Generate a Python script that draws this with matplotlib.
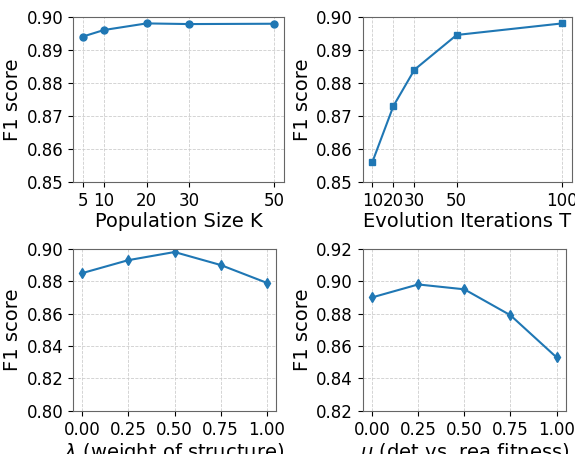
import matplotlib
matplotlib.use("Agg")
import matplotlib.pyplot as plt

# Data
pop_k = [5, 10, 20, 30, 50]
pop_f1 = [0.894, 0.896, 0.898, 0.8978, 0.8979]

iter_t = [10, 20, 30, 50, 100]
iter_f1 = [0.856, 0.873, 0.884, 0.8945, 0.898]

lam = [0.0, 0.25, 0.5, 0.75, 1.0]
lam_f1 = [0.885, 0.893, 0.898, 0.890, 0.879]

mu = [0.0, 0.25, 0.5, 0.75, 1.0]
mu_f1 = [0.890, 0.898, 0.895, 0.879, 0.853]

color = '#1f77b4'
fig = plt.figure(figsize=(5.75, 4.54), dpi=100)

positions = [
    [0.127, 0.599, 0.367, 0.364],
    [0.631, 0.599, 0.363, 0.364],
    [0.127, 0.095, 0.353, 0.357],
    [0.631, 0.095, 0.353, 0.357],
]
panels = [
    (pop_k, pop_f1, 'o', 'Population Size K', [0.85, 0.86, 0.87, 0.88, 0.89, 0.90], pop_k),
    (iter_t, iter_f1, 's', 'Evolution Iterations T', [0.85, 0.86, 0.87, 0.88, 0.89, 0.90], iter_t),
    (lam, lam_f1, 'd', r'$\lambda$ (weight of structure)', [0.80, 0.82, 0.84, 0.86, 0.88, 0.90], lam),
    (mu, mu_f1, 'd', r'$\mu$ (det vs. rea fitness)', [0.82, 0.84, 0.86, 0.88, 0.90, 0.92], mu),
]

for pos, (x, y, marker, xlabel, yticks, xticks) in zip(positions, panels):
    ax = fig.add_axes(pos)
    ax.plot(x, y, marker=marker, color=color, linewidth=1.5, markersize=5)
    ax.set_ylim(yticks[0], yticks[-1])
    ax.set_yticks(yticks)
    ax.set_yticklabels(['%.2f' % v for v in yticks])
    ax.set_xticks(xticks)
    if isinstance(xticks[0], float):
        ax.set_xticklabels(['%.2f' % v for v in xticks])
    else:
        ax.set_xticklabels([str(v) for v in xticks])
    ax.set_xlabel(xlabel, fontsize=14, labelpad=1.5)
    ax.set_ylabel('F1 score', fontsize=14, labelpad=3)
    ax.tick_params(labelsize=12)
    ax.grid(True, linestyle='--', color='#c8c8c8', linewidth=0.6, alpha=0.9)
    for sp in ax.spines.values():
        sp.set_color('#666666')

fig.savefig('out.png', dpi=100)
